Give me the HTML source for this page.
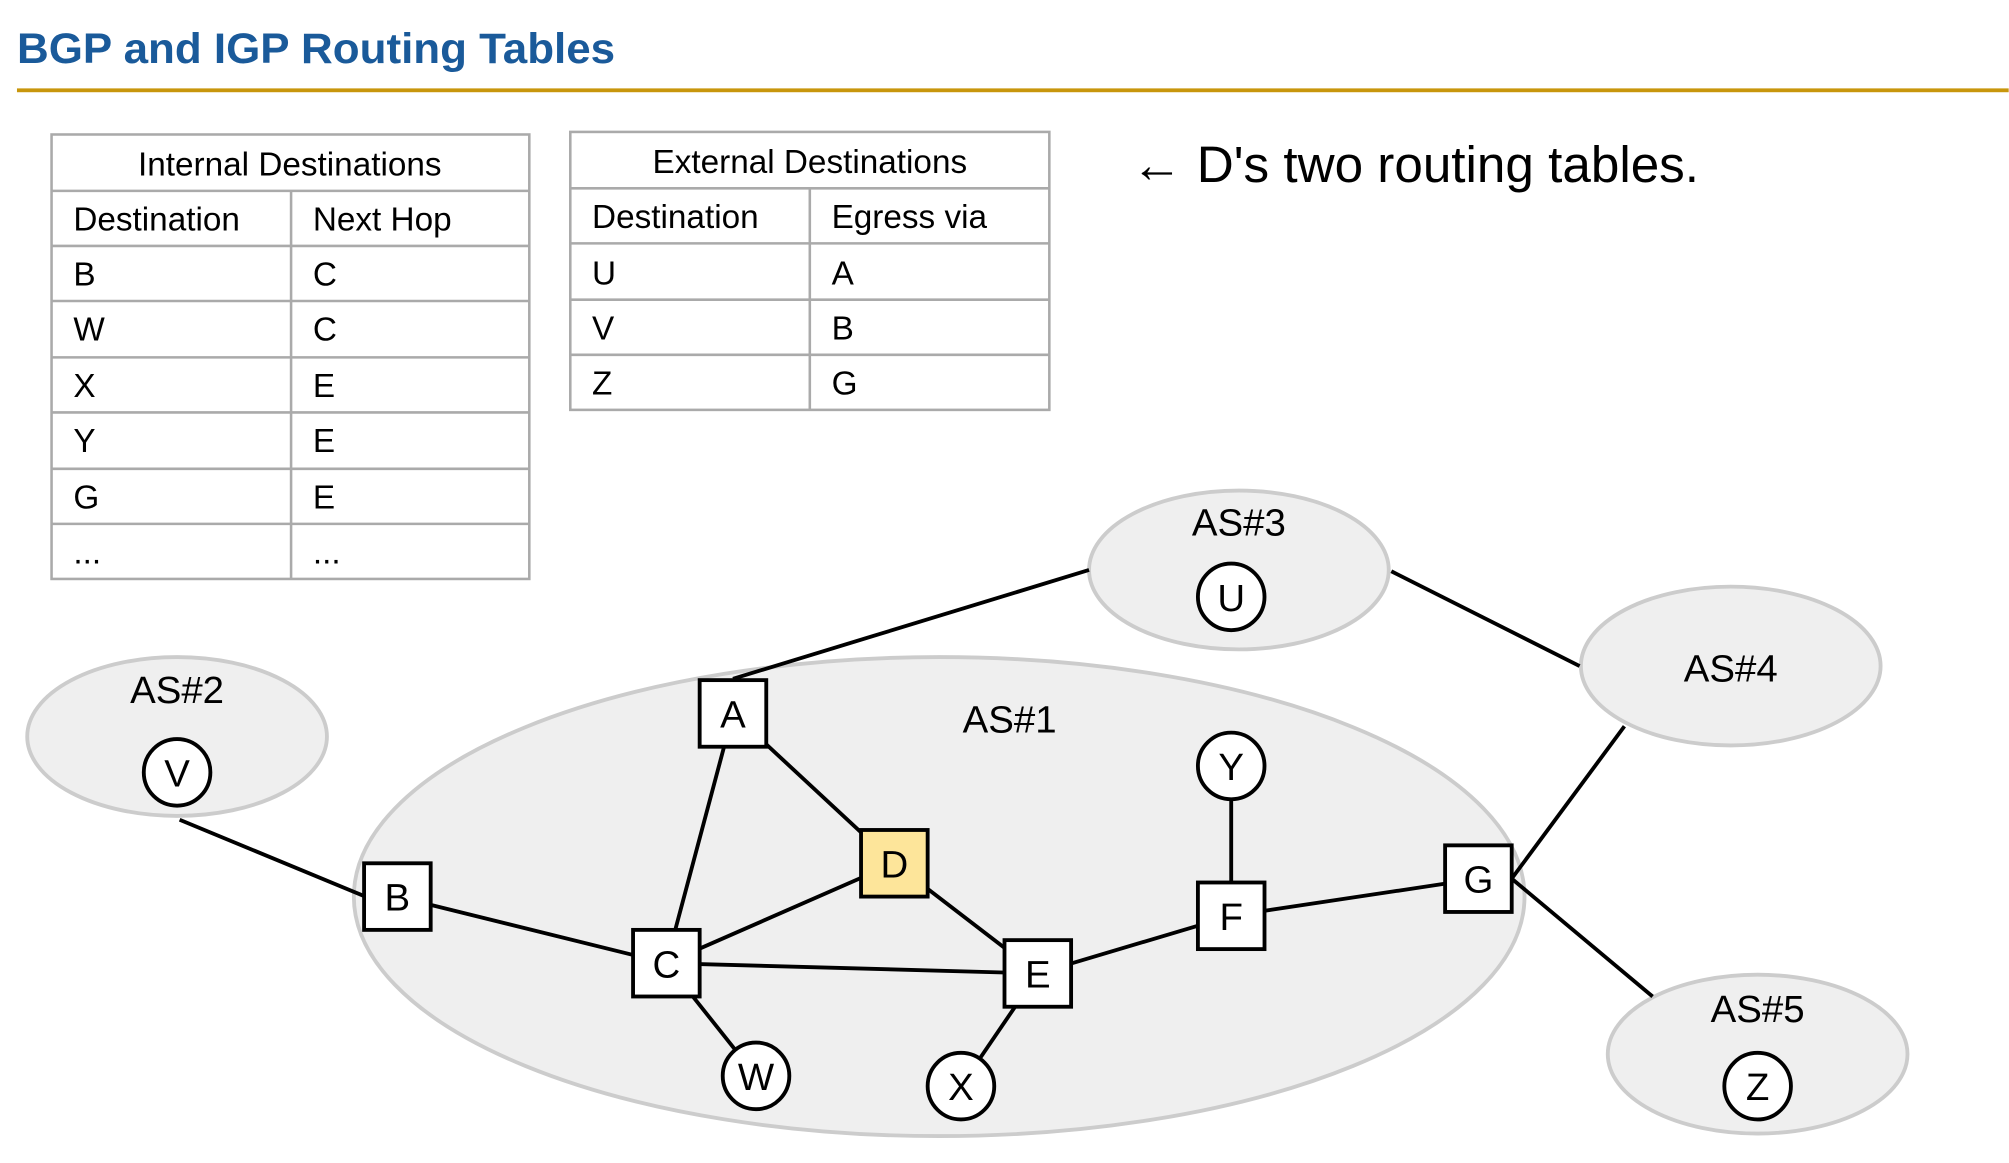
<!DOCTYPE html>
<html><head><meta charset="utf-8"><style>
html,body{margin:0;padding:0;background:#fff;}
svg{display:block;}
text{font-family:"Liberation Sans",sans-serif;}
</style></head><body>
<svg width="2009" height="1163" viewBox="0 0 1568 908" xmlns="http://www.w3.org/2000/svg">
<text x="13" y="49" font-size="33" fill="#1a5a9a" font-weight="bold" textLength="467" lengthAdjust="spacingAndGlyphs">BGP and IGP Routing Tables</text>
<rect x="13" y="69" width="1555" height="3" fill="#c8960c"/>

<g stroke="#aaa" stroke-width="2" fill="none">
<rect x="40" y="105" width="373" height="347"/>
<line x1="40" y1="149" x2="413" y2="149"/>
<line x1="40" y1="192" x2="413" y2="192"/>
<line x1="40" y1="235" x2="413" y2="235"/>
<line x1="40" y1="279" x2="413" y2="279"/>
<line x1="40" y1="322" x2="413" y2="322"/>
<line x1="40" y1="366" x2="413" y2="366"/>
<line x1="40" y1="409" x2="413" y2="409"/>
<line x1="227" y1="149" x2="227" y2="452"/>
<rect x="445" y="103" width="374" height="217"/>
<line x1="445" y1="147" x2="819" y2="147"/>
<line x1="445" y1="190" x2="819" y2="190"/>
<line x1="445" y1="234" x2="819" y2="234"/>
<line x1="445" y1="277" x2="819" y2="277"/>
<line x1="632" y1="147" x2="632" y2="320"/>
</g>
<g font-size="26" fill="#000">
<text x="226" y="137" text-anchor="middle">Internal Destinations</text>
<text x="57" y="180">Destination</text><text x="244" y="180">Next Hop</text>
<text x="57" y="223">B</text><text x="244" y="223">C</text>
<text x="57" y="266">W</text><text x="244" y="266">C</text>
<text x="57" y="310">X</text><text x="244" y="310">E</text>
<text x="57" y="353">Y</text><text x="244" y="353">E</text>
<text x="57" y="397">G</text><text x="244" y="397">E</text>
<text x="57" y="440">...</text><text x="244" y="440">...</text>
<text x="632" y="135" text-anchor="middle">External Destinations</text>
<text x="462" y="178">Destination</text><text x="649" y="178">Egress via</text>
<text x="462" y="222">U</text><text x="649" y="222">A</text>
<text x="462" y="265">V</text><text x="649" y="265">B</text>
<text x="462" y="308">Z</text><text x="649" y="308">G</text>
</g>
<text x="883" y="142" font-size="40">← D's two routing tables.</text>

<g fill="#efefef" stroke="#ccc" stroke-width="3">
<ellipse cx="733" cy="700" rx="457" ry="187"/>
<ellipse cx="138" cy="575" rx="117" ry="62"/>
<ellipse cx="967" cy="445" rx="117" ry="62"/>
<ellipse cx="1351" cy="520" rx="117" ry="62"/>
<ellipse cx="1372" cy="823" rx="117" ry="62"/>
</g>
<g font-size="30" text-anchor="middle">
<text x="788" y="572">AS#1</text>
<text x="138" y="549">AS#2</text>
<text x="967" y="418">AS#3</text>
<text x="1351" y="532">AS#4</text>
<text x="1372" y="798">AS#5</text>
</g>

<g stroke="#000" stroke-width="3">
<line x1="572" y1="530" x2="850" y2="445"/>
<line x1="572" y1="557" x2="698" y2="674"/>
<line x1="572" y1="557" x2="520" y2="752"/>
<line x1="310" y1="700" x2="520" y2="752"/>
<line x1="140" y1="640" x2="285" y2="700"/>
<line x1="520" y1="752" x2="698" y2="674"/>
<line x1="520" y1="752" x2="810" y2="760"/>
<line x1="520" y1="752" x2="590" y2="840"/>
<line x1="698" y1="674" x2="810" y2="760"/>
<line x1="810" y1="760" x2="750" y2="848"/>
<line x1="810" y1="760" x2="961" y2="715"/>
<line x1="961" y1="715" x2="961" y2="598"/>
<line x1="961" y1="715" x2="1154" y2="686"/>
<line x1="1180" y1="686" x2="1268" y2="567"/>
<line x1="1180" y1="686" x2="1290" y2="778"/>
<line x1="1086" y1="446" x2="1233" y2="520"/>
</g>

<g fill="#fff" stroke="#000" stroke-width="3">
<circle cx="138" cy="603" r="26"/>
<circle cx="961" cy="466" r="26"/>
<circle cx="961" cy="598" r="26"/>
<circle cx="590" cy="840" r="26"/>
<circle cx="750" cy="848" r="26"/>
<circle cx="1372" cy="848" r="26"/>
<rect x="546" y="531" width="52" height="52"/>
<rect x="284" y="674" width="52" height="52"/>
<rect x="494" y="726" width="52" height="52"/>
<rect x="672" y="648" width="52" height="52" fill="#fde59a"/>
<rect x="784" y="734" width="52" height="52"/>
<rect x="935" y="689" width="52" height="52"/>
<rect x="1128" y="660" width="52" height="52"/>
</g>
<g font-size="30" text-anchor="middle">
<text x="138" y="614">V</text>
<text x="961" y="477">U</text>
<text x="961" y="609">Y</text>
<text x="590" y="851">W</text>
<text x="750" y="859">X</text>
<text x="1372" y="859">Z</text>
<text x="572" y="568">A</text>
<text x="310" y="711">B</text>
<text x="520" y="763">C</text>
<text x="698" y="685">D</text>
<text x="810" y="771">E</text>
<text x="961" y="726">F</text>
<text x="1154" y="697">G</text>
</g>
</svg>
</body></html>
